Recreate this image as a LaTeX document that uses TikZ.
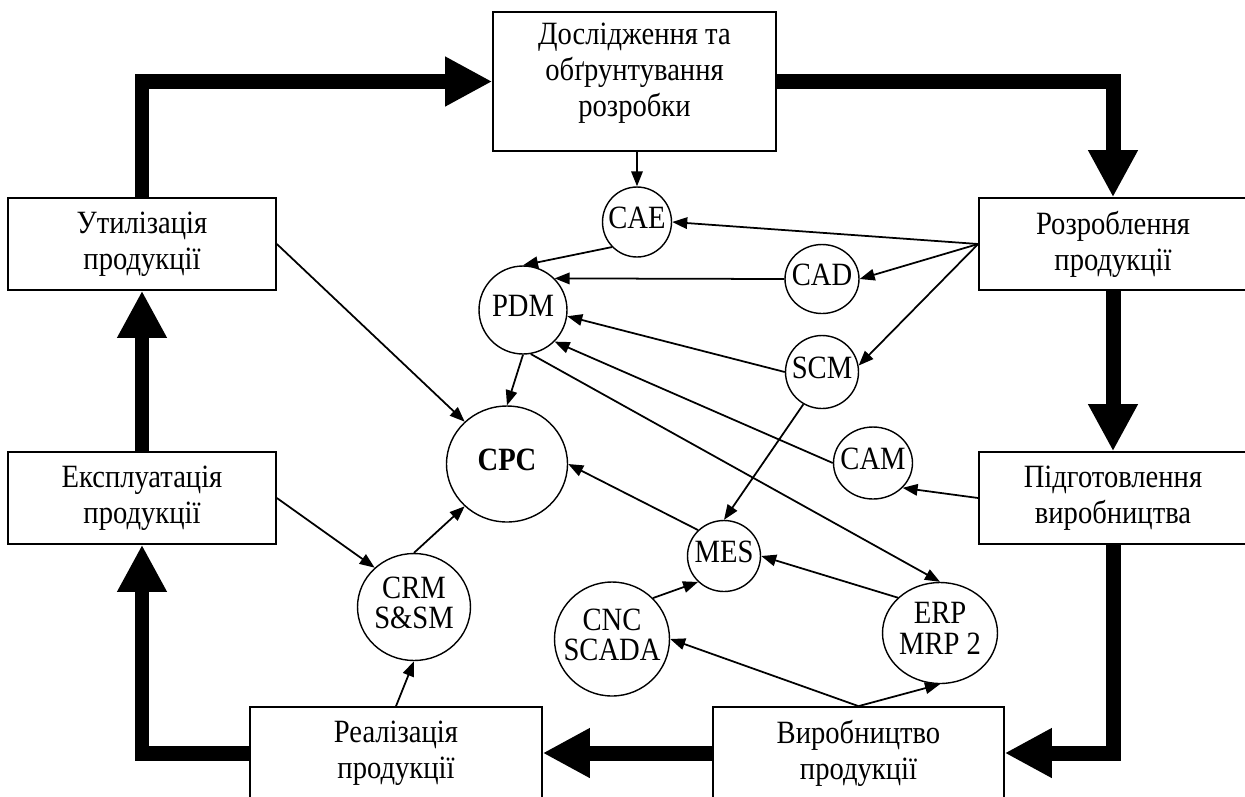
\documentclass[tikz,border=0pt]{standalone}
\usepackage{fontspec}
\setmainfont[FakeStretch=0.88]{Liberation Serif}
\usetikzlibrary{arrows.meta,shapes.geometric}
\newcommand{\circtext}[1]{\makebox[0pt]{\raisebox{-2pt}{\fontsize{18.5}{17}\selectfont\begin{tabular}{@{}c@{}}#1\end{tabular}}}}

\begin{document}
\begin{tikzpicture}[x=0.02cm,y=-0.02cm,>={Triangle[length=3mm,width=2.3mm]},
stage/.style={draw, line width=1pt, minimum width=5.36cm, minimum height=1.84cm, align=center, font=\fontsize{18.5}{20.5}\selectfont},
sys/.style={ellipse, draw, line width=0.8pt, inner sep=0pt},
flow/.style={line width=3mm, -{Triangle[length=9.4mm,width=9.4mm]}},
link/.style={->, line width=1pt}]
\clip (0,0) rectangle (1245,796);
% life cycle stages
\node[stage, minimum width=5.66cm, minimum height=2.78cm, text depth=13pt] (research) at (634.5,81.5) {Дослідження та\\обґрунтування\\розробки};
\node[stage] (util) at (142,244) {Утилізація\\продукції};
\node[stage] (oper) at (142,498) {Експлуатація\\продукції};
\node[stage] (devel) at (1113,244) {Розроблення\\продукції};
\node[stage] (prep) at (1113,498) {Підготовлення\\виробництва};
\node[stage, minimum width=5.82cm] (manuf) at (858.5,753) {Виробництво\\продукції};
\node[stage, minimum width=5.84cm] (sales) at (396,753) {Реалізація\\продукції};
% systems
\node[sys, minimum width=1.38cm, minimum height=1.40cm] (cae) at (637,222) {\circtext{CAE}};
\node[sys, minimum width=1.76cm, minimum height=1.76cm] (pdm) at (523,310) {\circtext{PDM}};
\node[sys, minimum width=1.48cm, minimum height=1.38cm] (cad) at (822,279) {\circtext{CAD}};
\node[sys, minimum width=1.46cm, minimum height=1.46cm] (scm) at (822,372) {\circtext{SCM}};
\node[sys, minimum width=2.42cm, minimum height=2.32cm] (cpc) at (507,464) {\circtext{\textbf{CPC}}};
\node[sys, minimum width=1.58cm, minimum height=1.44cm] (cam) at (873,463) {\circtext{CAM}};
\node[sys, minimum width=1.46cm, minimum height=1.42cm] (mes) at (724,556) {\circtext{MES}};
\node[sys, minimum width=2.30cm, minimum height=2.28cm] (cnc) at (612,639) {\circtext{CNC\\SCADA}};
\node[sys, minimum width=2.30cm, minimum height=2.02cm] (erp) at (940,633) {\circtext{ERP\\MRP 2}};
\node[sys, minimum width=2.26cm, minimum height=2.14cm] (crm) at (414,607) {\circtext{CRM\\S\&SM}};
% main cycle
\draw[flow] (util.north) |- (research.west);
\draw[flow] (research.east) -| (devel.north);
\draw[flow] (devel.south) -- (prep.north);
\draw[flow] (prep.south) |- (manuf.east);
\draw[flow] (manuf.west) -- (sales.east);
\draw[flow] (sales.west) -| (oper.south);
\draw[flow] (oper.north) -- (util.south);
% information links
\draw[link] (research.south -| cae.north) -- (cae.north);
\draw[link] (devel.west) -- (cae.east);
\draw[link] (devel.west) -- (cad.east);
\draw[link] (devel.west) -- (scm.10);
\draw[link] (cae.225) -- (pdm.north);
\draw[link] (cad.west) -- (pdm.45);
\draw[link] (scm.west) -- (pdm.-8);
\draw[link] (cam.west) -- (pdm.-45);
\draw[link] (pdm.south) -- (cpc.north);
\draw[link] (pdm.-80) -- (erp.north);
\draw[link] (scm.240) -- (mes.north);
\draw[link] (prep.west) -- (cam.-40);
\draw[link] (mes.135) -- (cpc.east);
\draw[link] (erp.140) -- (mes.east);
\draw[link] (cnc.45) -- (mes.225);
\draw[link] (manuf.north) -- (cnc.east);
\draw[link] (manuf.north) -- (erp.south);
\draw[link] (util.east) -- (cpc.135);
\draw[link] (oper.east) -- (crm.135);
\draw[link] (crm.north) -- (cpc.225);
\draw[link] (sales.north) -- (crm.south);
\end{tikzpicture}
\end{document}
